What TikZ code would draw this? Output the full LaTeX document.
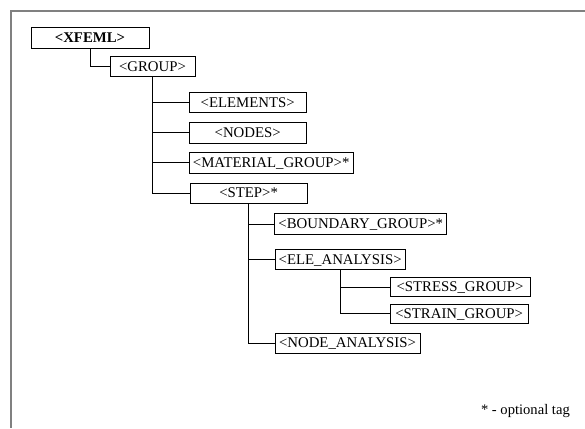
\documentclass[tikz,border=0pt]{standalone}
\usepackage{fontspec}
\setmainfont{Liberation Serif}
\begin{document}
\begin{tikzpicture}[x=1pt,y=1pt,
  tag/.style={draw=black,line width=1pt,rectangle,inner sep=0pt,
    minimum height=20.5pt,text height=9.8pt,text depth=0.5pt,
    font=\fontsize{14.8}{16}\selectfont},
  link/.style={draw=black,line width=1pt},
  framebar/.style={draw=black!50,line width=2pt}]
\useasboundingbox (0,0) rectangle (585,-428);
\coordinate (frtop) at (585,-11);
\coordinate (frcorner) at (11,-11);
\coordinate (frbot) at (11,-428);
\draw[framebar] (frtop) -- (frcorner) -- (frbot);

\node[tag,minimum width=118pt,font=\fontsize{14.8}{16}\selectfont\bfseries] (xfeml) at (90,-38) {<XFEML>};
\node[tag,minimum width=85pt] (group) at (152.5,-66.5) {<GROUP>};
\node[tag,minimum width=117pt] (elements) at (247.7,-102.5) {<ELEMENTS>};
\node[tag,minimum width=117pt] (nodes) at (247.7,-132.8) {<NODES>};
\node[tag,minimum width=164pt] (material) at (271.2,-162.8) {<MATERIAL\_GROUP>*};
\node[tag,minimum width=117pt] (step) at (248.6,-193.3) {<STEP>*};
\node[tag,minimum width=171.7pt] (boundary) at (360.8,-224.2) {<BOUNDARY\_GROUP>*};
\node[tag,minimum width=130.3pt] (ele) at (340.2,-259.5) {<ELE\_ANALYSIS>};
\node[tag,minimum width=140pt,minimum height=19.4pt] (stress) at (460,-287) {<STRESS\_GROUP>};
\node[tag,minimum width=138.3pt,minimum height=19.4pt] (strain) at (459.2,-313.8) {<STRAIN\_GROUP>};
\node[tag,minimum width=145pt] (nodean) at (347.5,-343.3) {<NODE\_ANALYSIS>};

\node[anchor=base east,inner sep=0pt,font=\fontsize{14.6}{16}\selectfont] (note) at (570,-414) {* - optional tag};

\draw[link] (xfeml.south) |- (group.west);
\draw[link] (group.south) |- (elements.west);
\draw[link] (group.south) |- (nodes.west);
\draw[link] (group.south) |- (material.west);
\draw[link] (group.south) |- (step.west);
\draw[link] (step.south) |- (boundary.west);
\draw[link] (step.south) |- (ele.west);
\draw[link] (step.south) |- (nodean.west);
\draw[link] (ele.south) |- (stress.west);
\draw[link] (ele.south) |- (strain.west);
\end{tikzpicture}
\end{document}
